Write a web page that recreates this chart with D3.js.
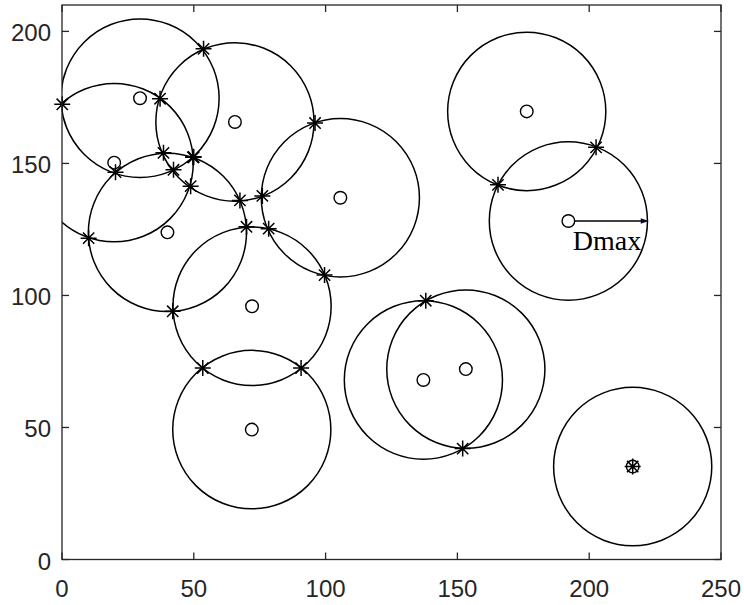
<!DOCTYPE html>
<html><head><meta charset="utf-8">
<script src="https://cdn.jsdelivr.net/npm/d3@7"></script>
<style>body{margin:0;background:#fff}svg{display:block}</style>
</head><body>
<script>
// circle centres (node positions), radius Dmax
const centerX = [29.6, 19.8, 40.0, 65.6, 105.6, 72.1, 72.0, 137.1, 153.2, 176.3, 192.1, 216.5];
const centerY = [174.7, 150.3, 123.9, 165.7, 137.0, 95.9, 49.2, 68.0, 72.1, 169.7, 128.2, 35.2];
const radius = 30;
// intersection points ('*')
const starX = [0.1, 49.9, 49.7, 20.3, 53.7, 42.3, 37.2, 48.8, 49.9, 10.1, 38.5, 67.5, 70.0, 42.0, 96.0, 76.0, 99.6, 78.4, 53.4, 90.7, 138.0, 152.0, 202.6, 165.4, 216.5];
const starY = [172.4, 152.5, 152.3, 146.7, 193.4, 147.6, 174.5, 141.4, 152.3, 121.7, 154.0, 136.0, 126.0, 94.0, 165.3, 137.7, 107.7, 125.3, 72.5, 72.5, 98.0, 42.0, 156.1, 141.9, 35.2];
const xTicks = [0, 50, 100, 150, 200, 250];
const yTicks = [0, 50, 100, 150, 200];
const arrowFrom = [192.1, 128.2], arrowTo = [222.6, 128.2];
const labelText = "Dmax", labelPos = [193.8, 117.3];

const W = 744, H = 605;
const L = 62, R = 721, T = 5, B = 559.5;
const x = d3.scaleLinear().domain([0, 250]).range([L, R]);
const y = d3.scaleLinear().domain([0, 210]).range([B, T]);
const ax = "#262626";

const svg = d3.select("body").append("svg").attr("width", W).attr("height", H);
svg.append("defs").append("clipPath").attr("id", "clip")
  .append("rect").attr("x", L).attr("y", T).attr("width", R - L).attr("height", B - T);

const g = svg.append("g").attr("clip-path", "url(#clip)");
const idx = d3.range(centerX.length);
g.selectAll("ellipse.c").data(idx).join("ellipse")
  .attr("cx", i => x(centerX[i])).attr("cy", i => y(centerY[i]))
  .attr("rx", x(radius) - x(0)).attr("ry", y(0) - y(radius))
  .attr("fill", "none").attr("stroke", "#000").attr("stroke-width", 1.5);

const mk = svg.append("g");
// centre markers 'o'
mk.selectAll("circle.o").data(idx).join("circle")
  .attr("cx", i => x(centerX[i])).attr("cy", i => y(centerY[i])).attr("r", 6.3)
  .attr("fill", "none").attr("stroke", "#000").attr("stroke-width", 1.4);

// star markers '*'
const s = 8, sd = s * 0.7071;
const starPath = `M${-s},0H${s}M0,${-s}V${s}M${-sd},${-sd}L${sd},${sd}M${-sd},${sd}L${sd},${-sd}`;
mk.selectAll("path.st").data(d3.range(starX.length)).join("path")
  .attr("transform", i => `translate(${x(starX[i])},${y(starY[i])})`)
  .attr("d", starPath).attr("fill", "none").attr("stroke", "#000").attr("stroke-width", 1.5);

// Dmax arrow
const ax0 = x(arrowFrom[0]), ay0 = y(arrowFrom[1]), ax1 = x(arrowTo[0]), ay1 = y(arrowTo[1]);
svg.append("line").attr("x1", ax0 + 6).attr("y1", ay0).attr("x2", ax1 - 5).attr("y2", ay1)
  .attr("stroke", "#000").attr("stroke-width", 1.6);
svg.append("path").attr("d", `M${ax1},${ay1}L${ax1 - 8},${ay1 - 2.8}L${ax1 - 8},${ay1 + 2.8}Z`)
  .attr("fill", "#0a0a28");
svg.append("text").attr("x", x(labelPos[0])).attr("y", y(labelPos[1]))
  .attr("font-family", "'Liberation Serif','Times New Roman',serif").attr("font-size", 28)
  .attr("fill", "#000").text(labelText);

// axes box
const box = svg.append("g");
box.append("rect").attr("x", L).attr("y", T).attr("width", R - L).attr("height", B - T)
  .attr("fill", "none").attr("stroke", ax).attr("stroke-width", 1.3);
const tl = 7;
xTicks.forEach(v => {
  box.append("line").attr("x1", x(v)).attr("x2", x(v)).attr("y1", B).attr("y2", B - tl).attr("stroke", ax).attr("stroke-width", 1.3);
  box.append("line").attr("x1", x(v)).attr("x2", x(v)).attr("y1", T).attr("y2", T + tl).attr("stroke", ax).attr("stroke-width", 1.3);
});
yTicks.forEach(v => {
  box.append("line").attr("x1", L).attr("x2", L + tl).attr("y1", y(v)).attr("y2", y(v)).attr("stroke", ax).attr("stroke-width", 1.3);
  box.append("line").attr("x1", R).attr("x2", R - tl).attr("y1", y(v)).attr("y2", y(v)).attr("stroke", ax).attr("stroke-width", 1.3);
});
const font = "'Liberation Sans',Arial,Helvetica,sans-serif";
svg.append("g").selectAll("text").data(xTicks).join("text")
  .attr("x", d => x(d)).attr("y", 597).attr("text-anchor", "middle")
  .attr("font-family", font).attr("font-size", 24).attr("fill", ax).text(d => d);
svg.append("g").selectAll("text").data(yTicks).join("text")
  .attr("x", 51).attr("y", d => y(d) + 10).attr("text-anchor", "end")
  .attr("font-family", font).attr("font-size", 24).attr("fill", ax).text(d => d);
</script>
</body></html>
